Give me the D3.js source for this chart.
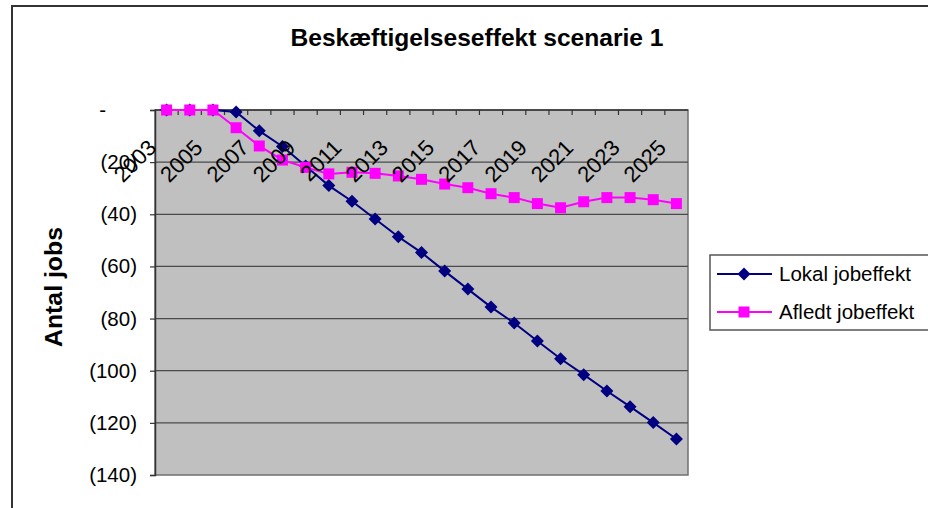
<!DOCTYPE html>
<html lang="da">
  <head>
    <meta charset="utf-8">
    <title>Beskæftigelseseffekt scenarie 1</title>
    <style>
      body { margin: 0; background: #fff; }
      text { font-family: "Liberation Sans", Arial, sans-serif; fill: #000; }
    </style>
  </head>
  <body>
  <script src="https://cdn.jsdelivr.net/npm/d3@7"></script>
  <script>
    // chart data
    var years = ["2003","2004","2005","2006","2007","2008","2009","2010","2011","2012","2013","2014",
                 "2015","2016","2017","2018","2019","2020","2021","2022","2023","2024","2025"];
    var lokal = [0, 0, 0, -0.8, -8, -14, -21.5, -29, -35, -41.8, -48.6, -54.7,
                 -61.8, -68.7, -75.6, -81.7, -88.6, -95.4, -101.5, -107.8, -113.8, -119.9, -126.2];
    var afledt = [0, 0, 0, -6.8, -13.8, -19.2, -22, -24.5, -23.9, -24.3, -25.3, -26.6,
                  -28.4, -29.8, -32.1, -33.6, -35.9, -37.5, -35.2, -33.6, -33.6, -34.4, -35.9];
    var yTicks = [0, -20, -40, -60, -80, -100, -120, -140];
    var yearLabels = ["2003","2005","2007","2009","2011","2013","2015","2017","2019","2021","2023","2025"];
    var seriesNames = ["Lokal jobeffekt", "Afledt jobeffekt"];

    var W = 928, H = 508;
    var plot = {left: 155, right: 688, top: 110, bottom: 475};

    var svg = d3.select("body").append("svg").attr("width", W).attr("height", H);

    // outer chart frame (runs off the right and bottom of the picture)
    svg.append("rect")
      .attr("x", 12).attr("y", 6).attr("width", 940).attr("height", 520)
      .style("fill", "#fff").style("stroke", "#333").style("stroke-width", 2);

    var x = d3.scaleBand().domain(years).range([plot.left, plot.right]);
    var y = d3.scaleLinear().domain([-140, 0]).range([plot.bottom, plot.top]);
    function cx(d) { return x(d) + x.bandwidth() / 2; }

    // plot area
    svg.append("rect")
      .attr("x", plot.left).attr("y", plot.top)
      .attr("width", plot.right - plot.left).attr("height", plot.bottom - plot.top)
      .style("fill", "#c0c0c0").style("stroke", "#707070").style("stroke-width", 1.5);

    // gridlines
    svg.append("g").selectAll("line").data(yTicks.filter(function(v){ return v != 0 && v != -140; }))
      .enter().append("line")
      .attr("x1", plot.left).attr("x2", plot.right)
      .attr("y1", function(v){ return y(v); }).attr("y2", function(v){ return y(v); })
      .style("stroke", "#4a4a4a").style("stroke-width", 1.2);

    // value axis
    var yAxis = d3.axisLeft(y).tickValues(yTicks).tickSize(5).tickPadding(13)
      .tickFormat(function(v){ return v == 0 ? "-" : "(" + Math.abs(v) + ")"; });
    var gy = svg.append("g").attr("transform", "translate(" + plot.left + ",0)").call(yAxis);
    gy.select(".domain").style("stroke", "#333").style("stroke-width", 1.5);
    gy.selectAll(".tick line").style("stroke", "#333").style("stroke-width", 1.2);
    gy.selectAll(".tick text").style("font-size", "20.5px")
      .style("font-family", "'Liberation Sans', Arial, sans-serif").style("fill", "#000")
      .filter(function(v){ return v == 0; }).attr("x", -49);

    // category axis sits on the zero line at the top
    svg.append("line")
      .attr("x1", plot.left).attr("x2", plot.right).attr("y1", y(0)).attr("y2", y(0))
      .style("stroke", "#333").style("stroke-width", 1.5);
    svg.append("g").selectAll("line").data(years.slice(1))
      .enter().append("line")
      .attr("x1", function(d){ return x(d); }).attr("x2", function(d){ return x(d); })
      .attr("y1", y(0)).attr("y2", y(0) + 5)
      .style("stroke", "#333").style("stroke-width", 1.2);

    // draws one series: line + markers
    function drawSeries(values, color, marker) {
      var pts = years.map(function(d, i){ return [cx(d), y(values[i])]; });
      var g = svg.append("g");
      g.append("path").attr("d", d3.line()(pts))
        .style("fill", "none").style("stroke", color).style("stroke-width", 2);
      g.selectAll("path.m").data(pts).enter().append("path").attr("class", "m")
        .attr("d", marker)
        .attr("transform", function(p){ return "translate(" + p[0] + "," + p[1] + ")"; })
        .style("fill", color);
    }
    var diamond = "M0,-6.5L6.5,0L0,6.5L-6.5,0Z";
    var square = "M-5.5,-5.5H5.5V5.5H-5.5Z";
    drawSeries(lokal, "#000080", diamond);
    drawSeries(afledt, "#ff00ff", square);

    // rotated year labels, drawn over the lines
    svg.append("g").selectAll("text").data(yearLabels)
      .enter().append("text")
      .attr("transform", function(d){ return "translate(" + (cx(d) - 9) + ",149) rotate(-45)"; })
      .attr("text-anchor", "end")
      .style("font-size", "22px")
      .text(function(d){ return d; });

    // title
    svg.append("text")
      .attr("x", 477).attr("y", 46)
      .attr("text-anchor", "middle")
      .attr("textLength", 373).attr("lengthAdjust", "spacingAndGlyphs")
      .style("font-size", "24px").style("font-weight", "bold")
      .text("Beskæftigelseseffekt scenarie 1");

    // y axis title
    svg.append("text")
      .attr("transform", "translate(62,287) rotate(-90)")
      .attr("text-anchor", "middle")
      .attr("textLength", 120).attr("lengthAdjust", "spacingAndGlyphs")
      .style("font-size", "23px").style("font-weight", "bold")
      .text("Antal jobs");

    // legend
    var legend = svg.append("g");
    legend.append("rect")
      .attr("x", 710).attr("y", 255).attr("width", 240).attr("height", 75)
      .style("fill", "#fff").style("stroke", "#555").style("stroke-width", 1.5);
    var legendColors = ["#000080", "#ff00ff"];
    var legendMarks = [diamond, square];
    seriesNames.forEach(function(name, i) {
      var ly = 274 + i * 38;
      legend.append("line").attr("x1", 717).attr("x2", 772).attr("y1", ly).attr("y2", ly)
        .style("stroke", legendColors[i]).style("stroke-width", 2);
      legend.append("path").attr("d", legendMarks[i])
        .attr("transform", "translate(744," + ly + ")").style("fill", legendColors[i]);
      legend.append("text").attr("x", 779).attr("y", ly).attr("dy", ".35em")
        .style("font-size", "20.5px").text(name);
    });
  </script>
  </body>
</html>
